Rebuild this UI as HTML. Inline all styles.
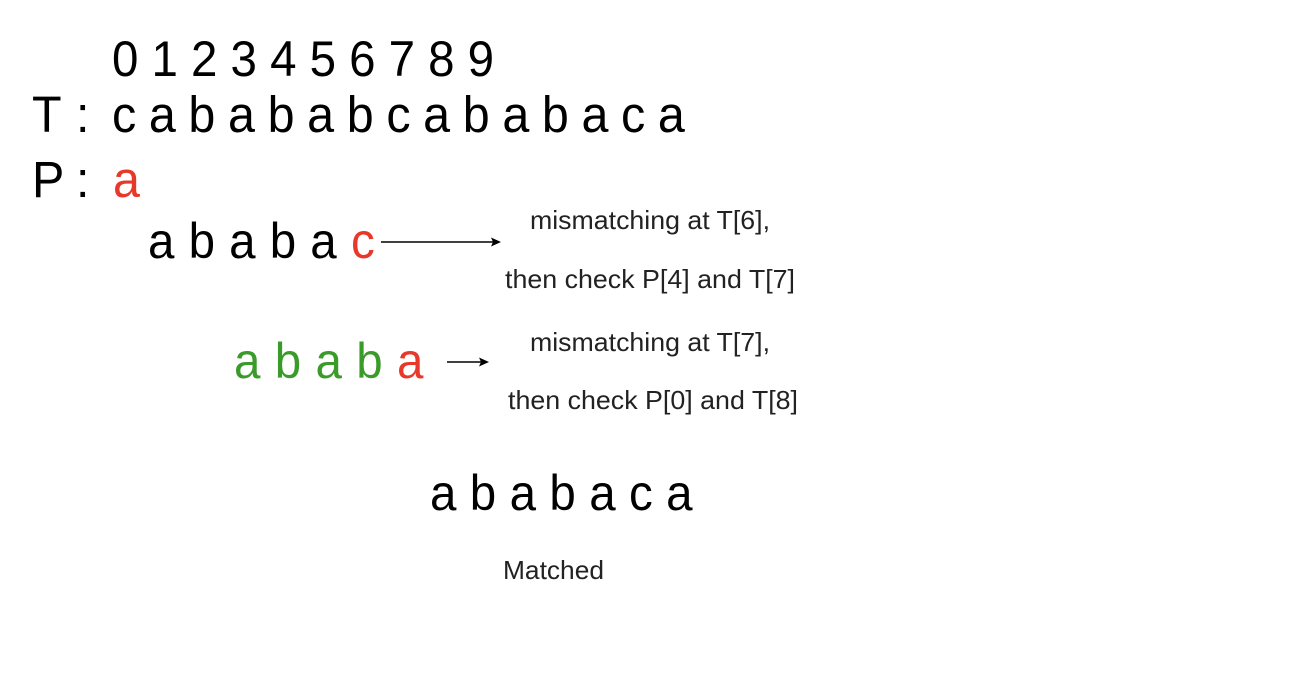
<!DOCTYPE html>
<html><head><meta charset="utf-8"><style>
html,body{margin:0;padding:0;background:#fff;}
svg{display:block;}
text{font-family:"Liberation Sans",sans-serif;}
</style></head><body>
<svg width="1314" height="686" viewBox="0 0 1314 686" xmlns="http://www.w3.org/2000/svg">
<rect width="1314" height="686" fill="#fff"/>
<g fill="#000">
<text transform="translate(112,76) scale(0.95,1)" font-size="50" letter-spacing="13.8">0123456789</text>
<text transform="translate(32,132) scale(0.95,1)" font-size="51">T</text>
<text transform="translate(76,132) scale(0.95,1)" font-size="51">:</text>
<text transform="translate(112,132) scale(0.95,1)" font-size="51" letter-spacing="13.3">cabababcababaca</text>
<text transform="translate(32,197) scale(0.95,1)" font-size="51">P</text>
<text transform="translate(76,197) scale(0.95,1)" font-size="51">:</text>
<text transform="translate(113,197) scale(0.95,1)" font-size="51" fill="#e8382a">a</text>
<text transform="translate(148,258) scale(0.95,1)" font-size="50" letter-spacing="14.9">ababa</text>
<text transform="translate(351,258) scale(0.95,1)" font-size="50" fill="#e8382a">c</text>
<text transform="translate(234,378) scale(0.95,1)" font-size="50" fill="#3a9a2a" letter-spacing="15.1">abab</text>
<text transform="translate(397,378) scale(0.95,1)" font-size="50" fill="#e8382a">a</text>
<text transform="translate(430,510) scale(0.95,1)" font-size="50" letter-spacing="14.1">ababaca</text>
</g>
<g font-size="26" fill="#222">
<text x="530" y="229" textLength="240" lengthAdjust="spacingAndGlyphs">mismatching at T[6],</text>
<text x="505" y="288" textLength="290" lengthAdjust="spacingAndGlyphs">then check P[4] and T[7]</text>
<text x="530" y="351" textLength="240" lengthAdjust="spacingAndGlyphs">mismatching at T[7],</text>
<text x="508" y="409" textLength="290" lengthAdjust="spacingAndGlyphs">then check P[0] and T[8]</text>
<text x="503" y="579" textLength="101" lengthAdjust="spacingAndGlyphs">Matched</text>
</g>
<line x1="381" y1="242" x2="494" y2="242" stroke="#000" stroke-width="1.5"/>
<path d="M501,242 L491,237.5 L493,242 L491,246.5 Z" fill="#000"/>
<line x1="447" y1="362" x2="482" y2="362" stroke="#000" stroke-width="1.5"/>
<path d="M489,362 L479,357.5 L481,362 L479,366.5 Z" fill="#000"/>
</svg>
</body></html>
